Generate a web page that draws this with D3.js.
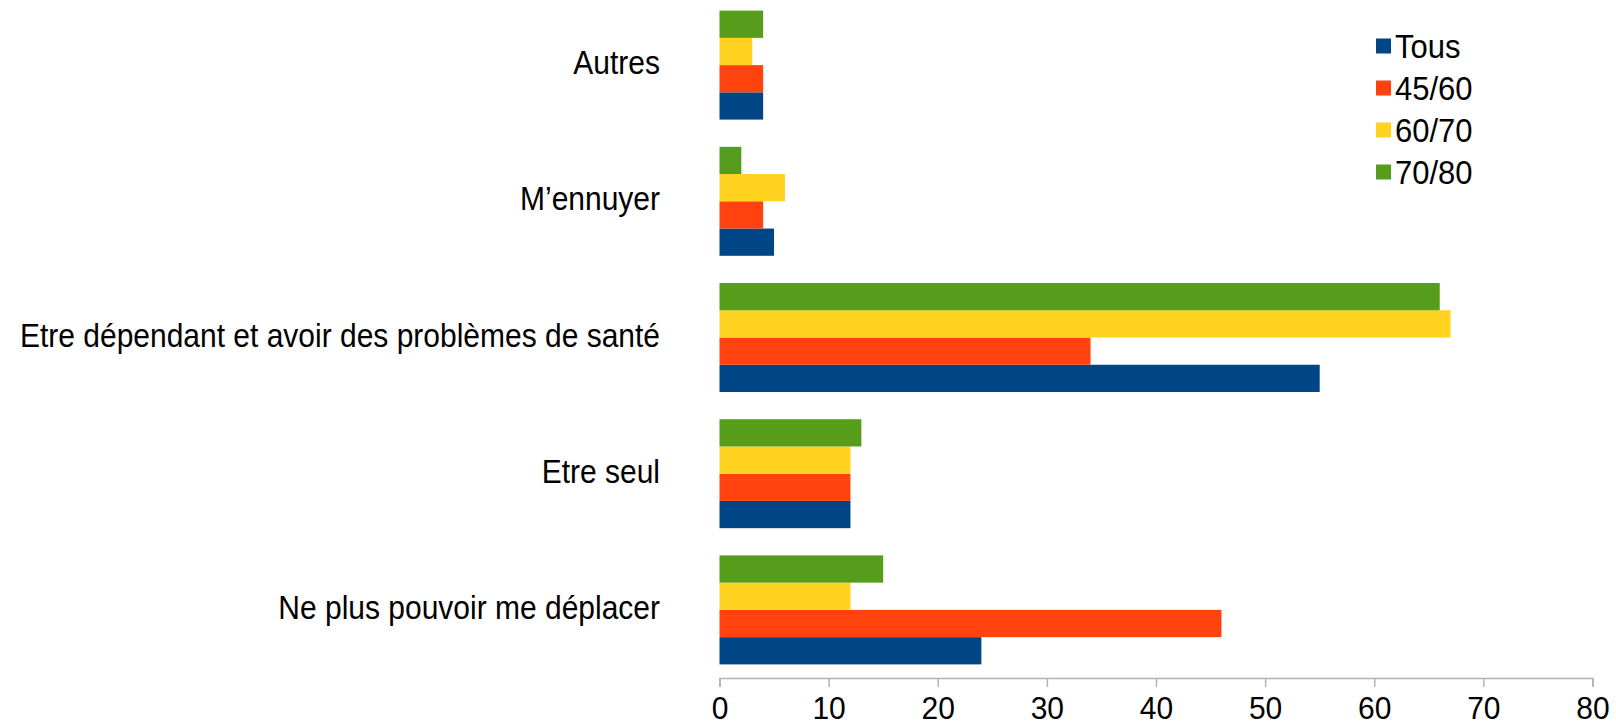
<!DOCTYPE html>
<html>
<head>
<meta charset="utf-8">
<script src="https://cdn.jsdelivr.net/npm/d3@7"></script>
<style>
  body { margin: 0; background: #fff; }
  text { font-family: "Liberation Sans", Arial, sans-serif; fill: #000; }
</style>
</head>
<body>
<svg id="chart"></svg>
<script>
// Categories, top to bottom
const categories = [
    "Autres",
    "M\u2019ennuyer",
    "Etre dépendant et avoir des problèmes de santé",
    "Etre seul",
    "Ne plus pouvoir me déplacer"
];

// Series
const seriesNames = ["Tous", "45/60", "60/70", "70/80"];
const seriesColors = ["#004586", "#ff420e", "#ffd320", "#579d1c"];

// Values per series, in the same order as categories
const tous   = [4, 5, 55, 12, 24];
const v45_60 = [4, 4, 34, 12, 46];
const v60_70 = [3, 6, 67, 12, 12];
const v70_80 = [4, 2, 66, 13, 15];

const xTicks = [0, 10, 20, 30, 40, 50, 60, 70, 80];

// Build rows for drawing
const seriesValues = [tous, v45_60, v60_70, v70_80];
let rows = [];
categories.forEach((c, i) => {
    seriesNames.forEach((s, j) => {
        rows.push({ category: c, series: s, value: seriesValues[j][i], color: seriesColors[j] });
    });
});

let width = 1616;
let height = 726;

// text in the original is a bit stretched vertically
let stretch = 1.1;
let tickStretch = 1.05;

let margin = { top: -3, right: 24, bottom: 48, left: 719.5 };

let svg = d3.select("#chart")
    .attr("width", width)
    .attr("height", height);

let xScale = d3.scaleLinear()
    .domain([0, 80])
    .range([margin.left, 1592.5]);

let yScale = d3.scaleBand()
    .domain(categories)
    .range([margin.top, height - margin.bottom])
    .paddingInner(0.2)
    .paddingOuter(0.1);

// Inside a group: 70/80 on top, Tous at the bottom
let ySub = d3.scaleBand()
    .domain(seriesNames.slice().reverse())
    .range([0, yScale.bandwidth()]);

// X axis
let xAxis = svg.append("g")
    .attr("transform", `translate(0, ${height - margin.bottom})`)
    .call(d3.axisBottom(xScale).tickValues(xTicks).tickSize(9));

xAxis.select(".domain").attr("stroke", "#b3b3b3").attr("stroke-width", 1.5);
xAxis.selectAll(".tick line").attr("stroke", "#b3b3b3").attr("stroke-width", 1.5);
// baseline of the tick labels just above the bottom edge
xAxis.selectAll(".tick text")
    .attr("y", 41 / tickStretch)
    .attr("dy", null)
    .attr("transform", `scale(1, ${tickStretch})`)
    .style("font-family", "'Liberation Sans', Arial, sans-serif")
    .style("font-size", "30px")
    .attr("fill", "#000");

// Bars
svg.selectAll(".bar")
    .data(rows)
    .enter().append("rect")
    .attr("class", "bar")
    .attr("x", xScale(0))
    .attr("y", d => yScale(d.category) + ySub(d.series))
    .attr("width", d => xScale(d.value) - xScale(0))
    .attr("height", ySub.bandwidth())
    .attr("fill", d => d.color);

// Category labels
svg.selectAll(".cat-label")
    .data(categories)
    .enter().append("text")
    .attr("class", "cat-label")
    .attr("transform", d => `translate(660, ${yScale(d) + yScale.bandwidth() / 2}) scale(1, ${stretch})`)
    .attr("y", 9 / stretch)
    .attr("text-anchor", "end")
    .style("font-size", "30px")
    .text(d => d);

// Legend
let legend = svg.append("g")
    .attr("transform", "translate(1376, 46)");

let legendItems = legend.selectAll(".legend-item")
    .data(seriesNames)
    .enter().append("g")
    .attr("class", "legend-item")
    .attr("transform", (d, i) => `translate(0, ${i * 42})`);

legendItems.append("rect")
    .attr("x", 0)
    .attr("y", -7.5)
    .attr("width", 15)
    .attr("height", 15)
    .attr("fill", (d, i) => seriesColors[i]);

legendItems.append("text")
    .attr("transform", `translate(19, 0) scale(1, ${stretch})`)
    .attr("y", 11.5 / stretch)
    .style("font-size", "31px")
    .text(d => d);
</script>
</body>
</html>
